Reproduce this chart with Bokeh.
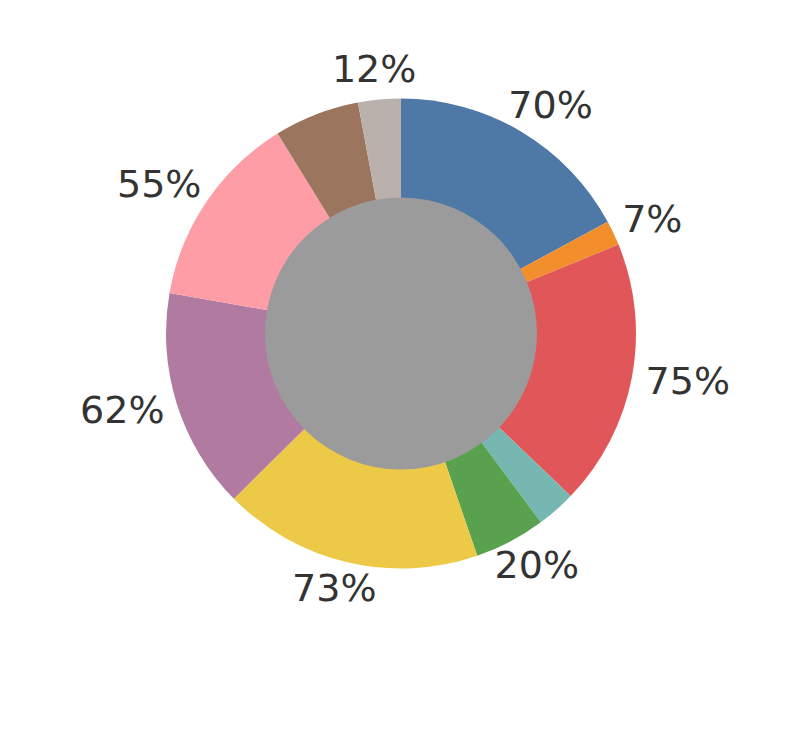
import numpy as np
from bokeh.plotting import figure
from bokeh.models import ColumnDataSource, Range1d
from bokeh.embed import file_html
from bokeh.resources import INLINE
from bokeh.core.properties import value

categories = ["Blue", "Orange", "Red", "Teal", "Green", "Yellow", "Purple", "Pink", "Brown", "Beige"]
values = [70, 7, 75, 11, 20, 73, 62, 55, 24, 12]
labels = ["70%", "7%", "75%", "", "20%", "73%", "62%", "55%", "", "12%"]
colors = ["#4E79A7", "#F28E2B", "#E15759", "#76B7B2", "#59A14F",
          "#EDC948", "#B07AA1", "#FF9DA7", "#9C755F", "#BAB0AC"]

W, H = 774, 729
cx, cy = 400.5, 396.0
R_OUT, R_IN, R_LAB = 235.0, 136.0, 250.0

vals = np.array(values, dtype=float)
frac = vals / vals.sum()
cum = np.concatenate([[0.0], np.cumsum(frac)])
start = np.pi / 2 - cum[:-1] * 2 * np.pi
end = np.pi / 2 - cum[1:] * 2 * np.pi
mid = (start + end) / 2

# label placement: point just outside the ring, pushed out by half the text box
tw = np.array([len(t) * 28.0 for t in labels])
th = 27.0
lx = cx + R_LAB * np.cos(mid) + tw / 2 * np.cos(mid)
ly = cy + R_LAB * np.sin(mid) + th / 2 * np.sin(mid) + 2

src = ColumnDataSource(dict(cat=categories, start=start, end=end, color=colors,
                            lx=lx, ly=ly, label=labels))

p = figure(width=W, height=H, output_backend="svg", toolbar_location=None,
           x_range=Range1d(0, W), y_range=Range1d(0, H), min_border=0)
p.axis.visible = False
p.grid.visible = False
p.outline_line_color = None
p.background_fill_color = "white"

p.wedge(x=cx, y=cy, radius=R_OUT, start_angle="start", end_angle="end",
        direction="clock", fill_color="color", line_color=None, source=src)
p.scatter(x=[cx], y=[cy], size=2 * R_IN, fill_color="#9B9B9B", line_color=None)
p.text(x="lx", y="ly", text="label", source=src, text_align="center",
       text_baseline="middle", text_font=value("DejaVu Sans"),
       text_font_size="38px", text_color="#333333")

open("out.html", "w").write(file_html(p, INLINE))
